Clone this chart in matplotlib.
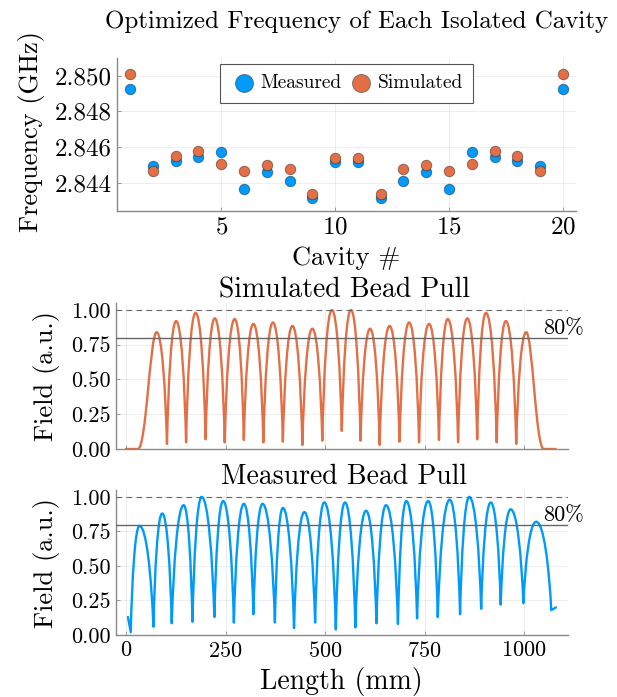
import matplotlib
matplotlib.use('Agg')
import matplotlib.pyplot as plt
from matplotlib.path import Path
from matplotlib.patches import PathPatch
from matplotlib.ticker import FormatStrFormatter

# ---------------------------------------------------------------------------
# Cavity frequencies and bead-pull field profiles
# ---------------------------------------------------------------------------

cavity = list(range(1, 21))
meas_ghz = [2.84925, 2.84495, 2.84523, 2.84542, 2.84572, 2.84366, 2.84458,
            2.84411, 2.84312, 2.84513, 2.84514, 2.84312, 2.84411, 2.84458,
            2.84366, 2.84572, 2.84542, 2.84523, 2.84495, 2.84925]
sim_ghz = [2.85010, 2.84466, 2.84547, 2.84578, 2.84506, 2.84466, 2.84497,
           2.84477, 2.84334, 2.84536, 2.84536, 2.84334, 2.84477, 2.84497,
           2.84466, 2.84506, 2.84578, 2.84547, 2.84466, 2.85010]

# simulated bead pull: peak / dip positions (mm) and field (a.u.)
sim_peak_x = [77, 126, 175, 223, 273, 320, 369, 418, 468, 517,
              565, 613, 662, 711, 761, 808, 857, 904, 954, 1005]
sim_peak_y = [0.84, 0.92, 0.98, 0.94, 0.935, 0.90, 0.91, 0.885, 0.865, 1.0,
              1.0, 0.865, 0.885, 0.91, 0.90, 0.935, 0.94, 0.98, 0.92, 0.84]
sim_dip_x = [103, 151, 200, 248, 296, 345, 394, 443, 493, 542,
             589, 637, 687, 736, 786, 834, 882, 931, 980]
sim_dip_y = [0.036, 0.048, 0.07, 0.048, 0.065, 0.048, 0.053, 0.029, 0.06, 0.13,
             0.06, 0.029, 0.053, 0.048, 0.065, 0.048, 0.07, 0.048, 0.036]
sim_start = [(0, 0.0), (30, 0.0)]
sim_end = [(1049, 0.0), (1079, 0.0)]

# measured bead pull
meas_peak_x = [34, 91, 145, 190, 244, 296, 343, 394, 448, 498,
               550, 603, 653, 704, 759, 813, 862, 916, 966, 1030]
meas_peak_y = [0.79, 0.88, 0.94, 1.0, 0.97, 0.95, 0.95, 0.92, 0.89, 0.96,
               0.96, 0.90, 0.94, 0.97, 0.97, 0.98, 1.0, 0.96, 0.91, 0.82]
meas_dip_x = [69, 115, 167, 222, 271, 320, 374, 422, 475, 527,
              576, 629, 683, 731, 783, 839, 892, 941, 998]
meas_dip_y = [0.06, 0.085, 0.096, 0.13, 0.09, 0.15, 0.09, 0.05, 0.09, 0.04,
              0.055, 0.085, 0.08, 0.12, 0.13, 0.15, 0.19, 0.22, 0.23]
meas_start = [(5, 0.13), (12, 0.02)]
meas_end = [(1068, 0.18), (1080, 0.20)]

BLUE = '#009AFA'
ORANGE = '#E26F46'

plt.rcParams['font.family'] = 'cmr10'
plt.rcParams['mathtext.fontset'] = 'cm'
plt.rcParams['axes.formatter.use_mathtext'] = True


def knots(start, peak_x, peak_y, dip_x, dip_y, end):
    pts = list(start)
    for i in range(len(peak_x)):
        pts.append((peak_x[i], peak_y[i]))
        if i < len(dip_x):
            pts.append((dip_x[i], dip_y[i]))
    return pts + list(end)


def bead_path(pts, soft_edges):
    # cusp-shaped dips and rounded crests drawn as cubic Bezier segments
    verts, codes = [pts[0]], [Path.MOVETO]
    n = len(pts)
    for i in range(n - 1):
        (x0, y0), (x1, y1) = pts[i], pts[i + 1]
        dx, dy = x1 - x0, y1 - y0
        if i == 0 or i == n - 2:
            verts.append((x1, y1))
            codes.append(Path.LINETO)
            continue
        if soft_edges and i in (1, n - 3):
            a, b = (0.45, 0.35) if dy > 0 else (0.35, 0.45)
            c1, c2 = (x0 + a * dx, y0), (x1 - b * dx, y1)
        elif dy > 0:
            c1, c2 = (x0 + 0.15 * dx, y0 + 0.5 * dy), (x1 - 0.5 * dx, y1)
        else:
            c1, c2 = (x0 + 0.5 * dx, y0), (x1 - 0.15 * dx, y1 - 0.5 * dy)
        verts += [c1, c2, (x1, y1)]
        codes += [Path.CURVE4] * 3
    return Path(verts, codes)


def style_axes(ax, tick_size):
    for side in ('top', 'right'):
        ax.spines[side].set_visible(False)
    for side in ('left', 'bottom'):
        ax.spines[side].set_color('#8a8a8a')
        ax.spines[side].set_linewidth(1.0)
    ax.grid(True, color='black', alpha=0.08, linewidth=0.6)
    ax.set_axisbelow(True)
    ax.tick_params(direction='in', length=3, width=0.6, color='#8a8a8a',
                   labelsize=tick_size, pad=4)


W, H = 617, 697
fig = plt.figure(figsize=(W / 100, H / 100), dpi=100)


def add_axes(left, right, top, bottom):
    return fig.add_axes([left / W, 1 - bottom / H, (right - left) / W, (bottom - top) / H])


## --- Frequency of each cavity --- ##

ax1 = add_axes(117, 576, 58, 211)
ax1.scatter(cavity, meas_ghz, s=58, color=BLUE, edgecolors=(0, 0, 0, 0.45),
            linewidths=0.6, label='Measured', zorder=3)
ax1.scatter(cavity, sim_ghz, s=58, color=ORANGE, edgecolors=(0, 0, 0, 0.45),
            linewidths=0.6, label='Simulated', zorder=3)
ax1.set_xlim(0.43, 20.57)
ax1.set_ylim(2.8424, 2.8510)
ax1.set_xticks([5, 10, 15, 20])
ax1.set_yticks([2.844, 2.846, 2.848, 2.850])
ax1.yaxis.set_major_formatter(FormatStrFormatter('%.3f'))
style_axes(ax1, 18)
leg = ax1.legend(loc='upper center', ncol=2, fontsize=14, frameon=True,
                 fancybox=False, edgecolor='#555555', framealpha=1,
                 markerscale=1.7, handletextpad=0.15, columnspacing=0.3,
                 handlelength=1.4, borderaxespad=0.3, borderpad=0.55)
leg.get_frame().set_linewidth(0.8)

fig.text(357 / W, 1 - 22 / H, 'Optimized Frequency of Each Isolated Cavity',
         ha='center', va='center', fontsize=18)
fig.text(32 / W, 1 - 132 / H, 'Frequency (GHz)', rotation=90,
         ha='center', va='center', fontsize=19)
fig.text(346 / W, 1 - 258 / H, 'Cavity #', ha='center', va='center', fontsize=19)

## --- Bead pull profiles --- ##

panels = [
    (303, 449, 'Simulated Bead Pull', 290, ORANGE,
     knots(sim_start, sim_peak_x, sim_peak_y, sim_dip_x, sim_dip_y, sim_end), True),
    (490, 635, 'Measured Bead Pull', 477, BLUE,
     knots(meas_start, meas_peak_x, meas_peak_y, meas_dip_x, meas_dip_y, meas_end), False),
]
for top, bottom, title, title_y, color, pts, soft in panels:
    ax = add_axes(116, 568, top, bottom)
    ax.add_patch(PathPatch(bead_path(pts, soft), fill=False, edgecolor=color,
                           linewidth=1.7, joinstyle='round', capstyle='round', zorder=2))
    ax.axhline(1.0, color='#666666', linewidth=0.8, linestyle=(0, (5, 4)), zorder=3)
    ax.axhline(0.8, color='#666666', linewidth=1.0, zorder=3)
    ax.text(1048, 0.865, '80%', fontsize=16, ha='left', va='center', clip_on=False)
    ax.set_xlim(-25, 1110)
    ax.set_ylim(0, 1.05)
    ax.set_xticks([0, 250, 500, 750, 1000])
    ax.set_yticks([0, 0.25, 0.5, 0.75, 1.0])
    ax.yaxis.set_major_formatter(FormatStrFormatter('%.2f'))
    style_axes(ax, 16)
    fig.text(344 / W, 1 - title_y / H, title, ha='center', va='center', fontsize=20)
    fig.text(47 / W, 1 - (top + bottom) / 2 / H, 'Field (a.u.)', rotation=90,
             ha='center', va='center', fontsize=19)
    if 'Simulated' in title:
        ax.tick_params(labelbottom=False)

fig.text(341 / W, 1 - 682 / H, 'Length (mm)', ha='center', va='center', fontsize=20)

fig.savefig('out.png', dpi=100)
